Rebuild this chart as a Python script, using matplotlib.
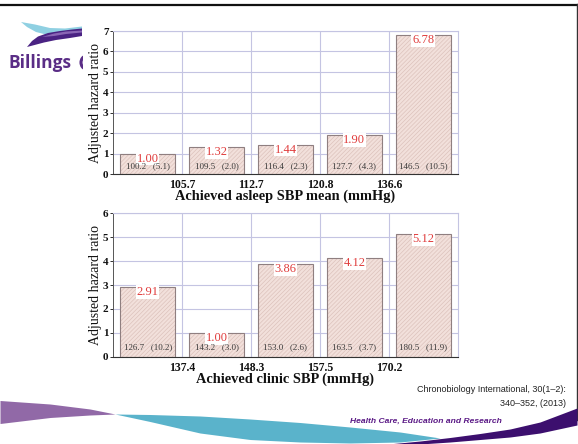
import numpy as np
import matplotlib
matplotlib.use("Agg")
import matplotlib.pyplot as plt
from matplotlib.patches import Rectangle, Polygon, Arc

# ---- data -------------------------------------------------------------
asleep_cutpoints = ["105.7", "112.7", "120.8", "136.6"]
asleep_hr = [1.00, 1.32, 1.44, 1.90, 6.78]
asleep_mean = ["100.2", "109.5", "116.4", "127.7", "146.5"]
asleep_pct = ["(5.1)", "(2.0)", "(2.3)", "(4.3)", "(10.5)"]

clinic_cutpoints = ["137.4", "148.3", "157.5", "170.2"]
clinic_hr = [2.91, 1.00, 3.86, 4.12, 5.12]
clinic_mean = ["126.7", "143.2", "153.0", "163.5", "180.5"]
clinic_pct = ["(10.2)", "(3.0)", "(2.6)", "(3.7)", "(11.9)"]

W, H = 578, 444
SERIF = "Liberation Serif"
SANS = "Liberation Sans"
GRID = "#c4c4e2"
LOGO = "#5a2d86"
plt.rcParams["hatch.linewidth"] = 0.5

fig = plt.figure(figsize=(W / 100, H / 100), dpi=100)
fig.patch.set_facecolor("white")


def px_rect(left, top, right, bottom):
    return [left / W, 1 - bottom / H, (right - left) / W, (bottom - top) / H]


# ---- slide decoration layer (pixel coordinates) ----------------------
deco = fig.add_axes([0, 0, 1, 1], zorder=0)
deco.set_xlim(0, W)
deco.set_ylim(H, 0)
deco.axis("off")

# frame lines
deco.plot([0, W], [4.8, 4.8], color="#111111", lw=1.6, solid_capstyle="butt")
deco.plot([576.8, 576.8], [4, 420], color="#333333", lw=1.0)

# logo swooshes
blue = Polygon([(21, 22), (35, 24.5), (50, 28), (65, 28.5), (82, 26.5),
                (82, 33), (65, 34), (48, 35), (36, 32), (27, 27)],
               closed=True, fc="#8fd0e2", ec="none")
purple = Polygon([(27, 47), (32, 41), (38, 36.5), (48, 33), (60, 31),
                  (72, 29.5), (82, 28.5), (82, 36), (70, 38), (56, 40),
                  (44, 42.5)],
                 closed=True, fc="#4a2383", ec="none")
mid = Polygon([(42, 37), (54, 33.5), (66, 31.5), (82, 30.5), (82, 32.5),
               (66, 34), (54, 36)], closed=True, fc="#8a66b5", ec="none")
for p in (blue, purple, mid):
    deco.add_patch(p)
deco.text(9, 68.5, "Billings", family="Open Sans", weight="bold",
          fontsize=12.5, color=LOGO, ha="left", va="baseline")
deco.add_patch(Arc((86.5, 62.5), 11, 13, theta1=100, theta2=260, lw=2.2,
                   color=LOGO))
# white panel the charts sit on
deco.add_patch(Rectangle((83, 17), 380, 369, fc="white", ec="none", zorder=5))

# bottom wave bands
def band(xs, upper, lower, color):
    x = np.linspace(xs[0], xs[-1], 200)
    up = np.interp(x, xs, upper)
    lo = np.interp(x, xs, lower)
    deco.fill_between(x, up, lo, color=color, lw=0, zorder=2)

band([0, 50, 90, 115], [400.5, 404, 409, 414], [423.5, 417.5, 415, 414], "#9169a7")
band([115, 150, 200, 250, 300, 350, 400, 440],
     [414, 414.5, 416, 419, 422.5, 427, 432, 438],
     [414, 421.5, 433, 439.5, 442, 443, 442, 438], "#5ab3cb")
band([388, 420, 450, 480, 510, 540, 577],
     [444, 441, 437.5, 433.5, 429, 422, 408],
     [444, 444, 442, 439.5, 437, 433, 425], "#3c0f6e")

deco.text(566, 389, "Chronobiology International, 30(1\u20132):", family=SANS,
          fontsize=6.5, color="#222222", ha="right", va="center", zorder=6)
deco.text(566, 403, "340\u2013352, (2013)", family=SANS,
          fontsize=6.5, color="#222222", ha="right", va="center", zorder=6)
deco.text(502, 421, "Health Care, Education and Research", family=SANS,
          weight="bold", style="italic", fontsize=6.1, color="#5b1a86",
          ha="right", va="center", zorder=6)


# ---- bar charts --------------------------------------------------------
def draw_panel(rect, hr, means, pcts, cuts, ymax, xlabel, inner_off):
    ax = fig.add_axes(rect, zorder=2)
    ax.set_facecolor("white")
    pos = np.arange(len(hr)) + 0.5
    ax.bar(pos, hr, width=0.8, color="#f2e0db", edgecolor="#dcc2bc",
           hatch="////////", lw=0, zorder=2)
    ax.bar(pos, hr, width=0.8, fill=False, edgecolor="#8f7f80", lw=0.8,
           zorder=3)
    for x, v, m, p in zip(pos, hr, means, pcts):
        ax.annotate(f"{v:.2f}", (x, v), xytext=(0, -3.6),
                    textcoords="offset points", ha="center", va="center",
                    family=SERIF, fontsize=9, color="#e03c3c", zorder=4,
                    bbox=dict(boxstyle="square,pad=0.06", fc="white",
                              ec="none"))
        ax.annotate(m + "   " + p, (x, 0), xytext=(0, inner_off),
                    textcoords="offset points", ha="center", va="center",
                    family=SERIF, fontsize=6.5, color="#3a3a3a", zorder=4)
    ax.set_xlim(0, len(hr))
    ax.set_ylim(0, ymax)
    ax.set_xticks(np.arange(1, len(hr)))
    ax.set_xticklabels(cuts, family=SERIF, weight="bold", fontsize=8.5)
    ax.set_yticks(np.arange(0, ymax + 1))
    ax.set_yticklabels([str(i) for i in range(ymax + 1)], family=SERIF,
                       weight="bold", fontsize=8)
    ax.tick_params(axis="x", length=0, pad=3.5, colors="#111111")
    ax.tick_params(axis="y", length=2, width=0.6, pad=1.5, colors="#111111")
    ax.grid(True, color=GRID, lw=0.8, zorder=0)
    ax.set_axisbelow(True)
    for s in ("top", "right"):
        ax.spines[s].set_color(GRID)
        ax.spines[s].set_linewidth(0.8)
    ax.spines["left"].set_color("#555555")
    ax.spines["bottom"].set_color("#333333")
    ax.spines["left"].set_linewidth(0.7)
    ax.spines["bottom"].set_linewidth(0.8)
    ax.set_xlabel(xlabel, family=SERIF, weight="bold", fontsize=10.4,
                  labelpad=-0.8, color="#111111")
    ax.set_ylabel("Adjusted hazard ratio", family=SERIF, fontsize=10,
                  labelpad=0.8, color="#111111")
    return ax


draw_panel(px_rect(113.3, 31, 457.7, 174), asleep_hr, asleep_mean,
           asleep_pct, asleep_cutpoints, 7,
           "Achieved asleep SBP mean (mmHg)", 5.3)
draw_panel(px_rect(113.3, 213.3, 457.7, 356.7), clinic_hr, clinic_mean,
           clinic_pct, clinic_cutpoints, 6,
           "Achieved clinic SBP (mmHg)", 6.5)

fig.savefig("out.png", dpi=100)
